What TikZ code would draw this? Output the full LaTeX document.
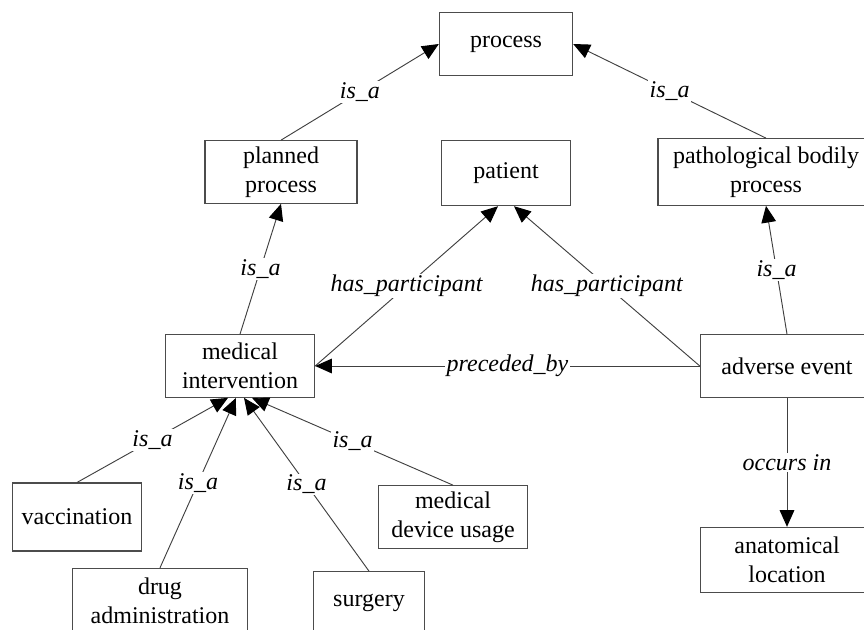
\documentclass[tikz,border=0pt]{standalone}
\usepackage{fontspec}
\setmainfont{Liberation Serif}
\usetikzlibrary{arrows.meta}

\begin{document}
\begin{tikzpicture}[
    x=0.75pt, y=-0.75pt,
    font=\fontsize{18}{22}\selectfont,
    cls/.style={rectangle, draw=black!70, line width=0.8pt, minimum height=47pt, align=center, inner sep=2pt},
    rel/.style={-{Triangle[length=12.5pt, width=11pt, color=black]}, draw=black!75, line width=0.7pt},
    lbl/.style={fill=white, inner sep=1pt, font=\fontsize{18}{22}\selectfont\itshape}
]
\useasboundingbox (0,0) rectangle (864,629);

% classes
\node[cls, minimum width=100pt] (process) at (506,44) {process};
\node[cls, minimum width=114pt] (planned) at (281,172) {planned\\process};
\node[cls, minimum width=97pt, minimum height=49pt] (patient) at (506,173) {patient};
\node[cls, minimum width=162pt, minimum height=50pt] (patho) at (766,172) {pathological bodily\\process};
\node[cls, minimum width=112pt] (medint) at (240,366) {medical\\intervention};
\node[cls, minimum width=130pt] (adverse) at (787,366) {adverse event};
\node[cls, minimum width=130pt, minimum height=49pt] (anatloc) at (787,560) {anatomical\\location};
\node[cls, minimum width=97pt, minimum height=51pt] (vacc) at (77,517) {vaccination};
\node[cls, minimum width=131pt, minimum height=49pt] (drug) at (160,601) {drug\\administration};
\node[cls, minimum width=83pt] (surgery) at (369,603) {surgery};
\node[cls, minimum width=112pt] (device) at (453,517) {medical\\device usage};

% relations
\draw[rel] (planned.north) -- node[lbl] {is\_a} (process.west);
\draw[rel] (patho.north) -- node[lbl] {is\_a} (process.east);
\draw[rel] (medint.north) -- node[lbl] {is\_a} (planned.south);
\draw[rel] (medint.east) -- node[lbl] {has\_participant} ([xshift=-6pt]patient.south);
\draw[rel] (adverse.west) -- node[lbl] {has\_participant} ([xshift=6pt]patient.south);
\draw[rel] (adverse.west) -- node[lbl] {preceded\_by} (medint.east);
\draw[rel] (adverse.north) -- node[lbl] {is\_a} (patho.south);
\draw[rel] (adverse.south) -- node[lbl] {occurs in} (anatloc.north);
\draw[rel] (vacc.north) -- node[lbl] {is\_a} ([xshift=-9pt]medint.south);
\draw[rel] (drug.north) -- node[lbl] {is\_a} ([xshift=-3pt]medint.south);
\draw[rel] (surgery.north) -- node[lbl] {is\_a} ([xshift=3pt]medint.south);
\draw[rel] (device.north) -- node[lbl] {is\_a} ([xshift=9pt]medint.south);
\end{tikzpicture}
\end{document}
